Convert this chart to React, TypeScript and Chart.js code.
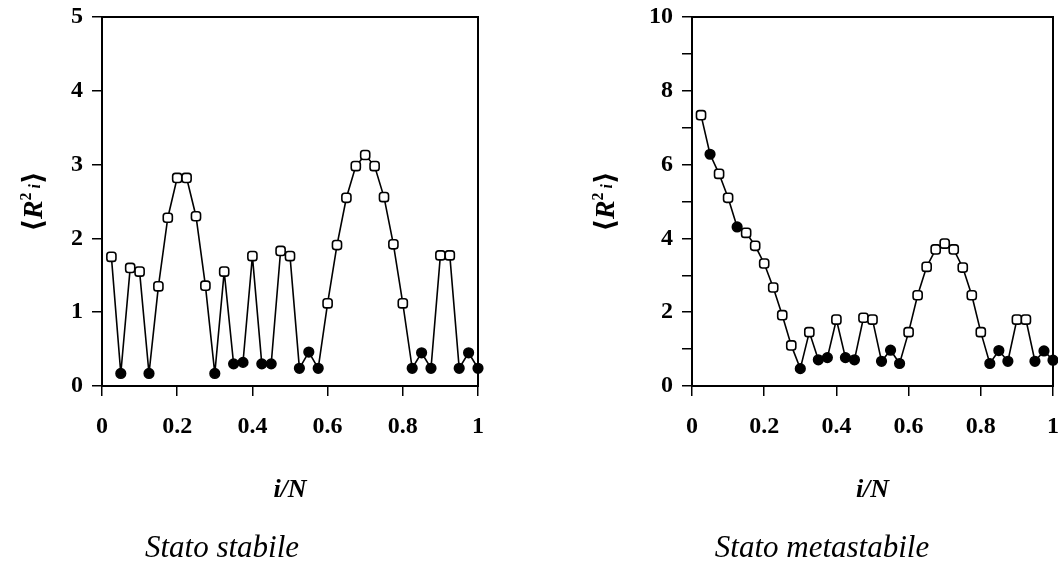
import React, { useEffect, useRef } from "react";
import { Chart, registerables } from "chart.js";

Chart.register(...registerables);

// i/N positions (N = 40)
const I_OVER_N = [
  0.025, 0.05, 0.075, 0.1, 0.125, 0.15, 0.175, 0.2, 0.225, 0.25,
  0.275, 0.3, 0.325, 0.35, 0.375, 0.4, 0.425, 0.45, 0.475, 0.5,
  0.525, 0.55, 0.575, 0.6, 0.625, 0.65, 0.675, 0.7, 0.725, 0.75,
  0.775, 0.8, 0.825, 0.85, 0.875, 0.9, 0.925, 0.95, 0.975, 1,
];

// <R_i^2> for the stable state
const STABLE_VALUES = [
  1.75, 0.17, 1.6, 1.55, 0.17, 1.35, 2.28, 2.82, 2.82, 2.3,
  1.36, 0.17, 1.55, 0.3, 0.32, 1.76, 0.3, 0.3, 1.83, 1.76,
  0.24, 0.46, 0.24, 1.12, 1.91, 2.55, 2.98, 3.13, 2.98, 2.56,
  1.92, 1.12, 0.24, 0.45, 0.24, 1.77, 1.77, 0.24, 0.45, 0.24,
];

// <R_i^2> for the metastable state
const METASTABLE_VALUES = [
  7.34, 6.28, 5.75, 5.1, 4.31, 4.15, 3.8, 3.32, 2.67, 1.92,
  1.1, 0.47, 1.46, 0.71, 0.77, 1.8, 0.77, 0.71, 1.85, 1.8,
  0.67, 0.97, 0.61, 1.46, 2.46, 3.23, 3.7, 3.86, 3.7, 3.21,
  2.46, 1.46, 0.61, 0.96, 0.67, 1.8, 1.8, 0.67, 0.95, 0.7,
];

// 1 = filled circle, 0 = open square (same pattern in both panels)
const FILLED_MARKS = [
  0, 1, 0, 0, 1, 0, 0, 0, 0, 0,
  0, 1, 0, 1, 1, 0, 1, 1, 0, 0,
  1, 1, 1, 0, 0, 0, 0, 0, 0, 0,
  0, 0, 1, 1, 1, 0, 0, 1, 1, 1,
];

const X_TICKS = [0, 0.2, 0.4, 0.6, 0.8, 1];
const X_TITLE = "i/N";
const CAPTION_STABLE = "Stato stabile";
const CAPTION_METASTABLE = "Stato metastabile";

const SERIF = '"Liberation Serif", "Times New Roman", "DejaVu Serif", serif';

type PanelCfg = {
  values: number[];
  yMax: number;
  yLabel: (v: number) => string;
  caption: string;
  captionX: number;
  padLeft: number;
  yWidth: number;
  padRight: number;
  yTitleX: number;
};

function decorPlugin(cfg: PanelCfg) {
  return {
    id: "decor",
    beforeDatasetsDraw(chart: any) {
      const { ctx, chartArea: a } = chart;
      ctx.save();
      ctx.strokeStyle = "#000";
      ctx.lineWidth = 2;
      ctx.strokeRect(a.left, a.top, a.right - a.left, a.bottom - a.top);
      ctx.restore();
    },
    afterDraw(chart: any) {
      const { ctx, chartArea: a } = chart;
      const cx = (a.left + a.right) / 2;
      ctx.save();
      ctx.fillStyle = "#000";
      // x title
      ctx.font = `italic bold 26px ${SERIF}`;
      ctx.textAlign = "center";
      ctx.textBaseline = "middle";
      ctx.fillText(X_TITLE, cx, 490);
      // caption
      ctx.font = `italic 31px ${SERIF}`;
      ctx.textBaseline = "alphabetic";
      ctx.fillText(cfg.caption, cfg.captionX, 557);
      // y title  <R^2 i>
      const pieces = [
        { t: "\u27E8", font: `bold 28px ${SERIF}`, dy: 0 },
        { t: "R", font: `italic bold 28px ${SERIF}`, dy: 0 },
        { t: "2", font: `bold 16px ${SERIF}`, dy: -11 },
        { t: " i", font: `italic bold 16px ${SERIF}`, dy: -2 },
        { t: "\u27E9", font: `bold 28px ${SERIF}`, dy: 0 },
      ];
      const cy = (a.top + a.bottom) / 2;
      ctx.translate(cfg.yTitleX, cy);
      ctx.rotate(-Math.PI / 2);
      ctx.textAlign = "left";
      ctx.textBaseline = "alphabetic";
      let total = 0;
      const widths = pieces.map((p) => {
        ctx.font = p.font;
        const w = ctx.measureText(p.t).width;
        total += w;
        return w;
      });
      let x = -total / 2;
      pieces.forEach((p, k) => {
        ctx.font = p.font;
        ctx.fillText(p.t, x, 9 + p.dy);
        x += widths[k];
      });
      ctx.restore();
    },
  };
}

function Panel({ cfg, left }: { cfg: PanelCfg; left: number }) {
  const ref = useRef<HTMLCanvasElement | null>(null);
  useEffect(() => {
    if (!ref.current) return;
    const data = I_OVER_N.map((x, k) => ({ x, y: cfg.values[k] }));
    const tickFont = { family: SERIF, size: 24, weight: "bold" as const };
    const chart = new Chart(ref.current, {
      type: "line",
      data: {
        datasets: [
          {
            data,
            borderColor: "#000",
            borderWidth: 1.6,
            clip: false as any,
            tension: 0,
            pointStyle: (c: any) => (FILLED_MARKS[c.dataIndex] ? "circle" : "rectRounded"),
            pointRadius: (c: any) => (FILLED_MARKS[c.dataIndex] ? 4.8 : 5.3),
            pointBackgroundColor: (c: any) => (FILLED_MARKS[c.dataIndex] ? "#000" : "#fff"),
            pointBorderColor: "#000",
            pointBorderWidth: 1.6,
          },
        ],
      },
      options: {
        responsive: false,
        animation: false,
        devicePixelRatio: 1,
        layout: { padding: { top: 17, left: cfg.padLeft, right: cfg.padRight, bottom: 123 } },
        plugins: { legend: { display: false }, tooltip: { enabled: false }, title: { display: false } },
        scales: {
          x: {
            type: "linear",
            min: 0,
            max: 1,
            afterBuildTicks: (s: any) => {
              s.ticks = X_TICKS.map((v) => ({ value: v }));
            },
            afterFit: (s: any) => {
              s.height = 60;
              s.paddingLeft = 0;
              s.paddingRight = 0;
            },
            ticks: {
              color: "#000",
              font: tickFont,
              padding: 16,
              autoSkip: false,
              maxRotation: 0,
              callback: (v: any) => {
                const n = Math.round(Number(v) * 10) / 10;
                return String(n);
              },
            },
            grid: { drawOnChartArea: false, tickLength: 10, color: "#000", lineWidth: 1.5 },
            border: { display: true, color: "#000", width: 2 },
          },
          y: {
            type: "linear",
            min: 0,
            max: cfg.yMax,
            afterFit: (s: any) => {
              s.width = cfg.yWidth;
              s.paddingTop = 0;
              s.paddingBottom = 0;
            },
            ticks: {
              color: "#000",
              font: tickFont,
              stepSize: 1,
              padding: 9,
              autoSkip: false,
              callback: (v: any) => cfg.yLabel(Number(v)),
            },
            grid: { drawOnChartArea: false, tickLength: 10, color: "#000", lineWidth: 1.5 },
            border: { display: true, color: "#000", width: 2 },
          },
        },
      },
      plugins: [decorPlugin(cfg)],
    });
    return () => chart.destroy();
  }, [cfg]);
  return (
    <canvas
      ref={ref}
      width={540}
      height={569}
      style={{ position: "absolute", left, top: 0, width: 540, height: 569 }}
    />
  );
}

const STABLE_CFG: PanelCfg = {
  values: STABLE_VALUES,
  yMax: 5,
  yLabel: (v) => String(v),
  caption: CAPTION_STABLE,
  captionX: 222,
  padLeft: 52,
  yWidth: 50,
  padRight: 62,
  yTitleX: 33,
};

const METASTABLE_CFG: PanelCfg = {
  values: METASTABLE_VALUES,
  yMax: 10,
  yLabel: (v) => (v % 2 === 0 ? String(v) : ""),
  caption: CAPTION_METASTABLE,
  captionX: 822 - 560,
  padLeft: 62,
  yWidth: 70,
  padRight: 47,
  yTitleX: 45,
};

export default function App() {
  return (
    <div
      style={{
        position: "absolute",
        left: 0,
        top: 0,
        width: 1058,
        height: 569,
        overflow: "hidden",
        background: "#fff",
      }}
    >
      <Panel cfg={STABLE_CFG} left={0} />
      <Panel cfg={METASTABLE_CFG} left={560} />
    </div>
  );
}
